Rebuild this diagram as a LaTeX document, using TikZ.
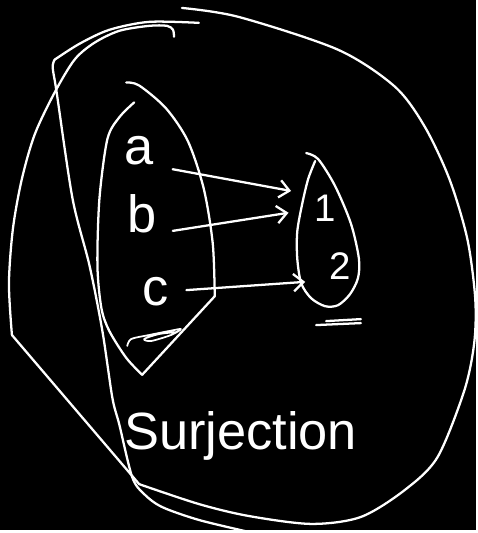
\documentclass[tikz,border=0pt]{standalone}
\usepackage{fontspec}
\setmainfont{Liberation Sans}
\usetikzlibrary{arrows.meta}

\tikzset{
    INK/.style={draw=white, line width=1.3pt, line cap=round,
        line join=round},
    LABEL/.style={text=white, inner sep=0mm,
        font={\fontsize{30}{36}\selectfont}},
    NUM_LABEL/.style={LABEL, font={\fontsize{22}{26}\selectfont}},
    TITLE/.style={LABEL, anchor=base},
    ARROW/.style={INK, -{Straight Barb[length=2mm, width=3.5mm]}},
    SCRIBBLE/.style={INK, line width=1pt}
}
\pgfdeclarelayer{bglayer}
\pgfdeclarelayer{edgelayer}
\pgfdeclarelayer{nodelayer}
\pgfsetlayers{bglayer,edgelayer,nodelayer,main}

\begin{document}
\begin{tikzpicture}[x=0.02cm, y=-0.02cm]
    \begin{pgfonlayer}{bglayer}
        \fill[black] (0,0) rectangle (479,533);
        \useasboundingbox (0,0) rectangle (479,533);
    \end{pgfonlayer}
    \begin{pgfonlayer}{nodelayer}
        \node [LABEL] (a) at (140,152) {a};
        \node [LABEL] (b) at (143,215) {b};
        \node [LABEL] (c) at (157,293) {c};
        \node [NUM_LABEL] (1) at (327,210) {1};
        \node [NUM_LABEL] (2) at (342,268) {2};
        \node [TITLE] (title) at (242,452) {Surjection};
    \end{pgfonlayer}
    \begin{pgfonlayer}{edgelayer}
        % big outer loop
        \draw[INK] plot[smooth] coordinates {(175,37) (174,30) (168,26) (150,26)
            (120,31) (95,43) (75,60) (55,93) (35,135) (22,180) (13,230) (9,285) (12,337)};
        \draw[INK] (12,337) -- (140,487);
        \draw[INK] plot[smooth] coordinates {(140,487) (200,507) (250,519) (313,527)
            (363,520) (407,493) (440,460) (467,393) (477,345) (478,300) (470,240)
            (452,180) (427,127) (397,87) (340,50) (240,17) (183,8)};
        % second loop
        \draw[INK] plot[smooth] coordinates {(200,23) (150,22) (110,30) (80,44) (55,60)};
        \draw[INK] plot[smooth] coordinates {(55,60) (53,68) (57,93) (73,200) (90,267)
            (103,333) (113,400) (120,427) (133,480) (145,497) (163,510) (200,523) (250,535)};
        % domain
        \draw[INK] plot[smooth] coordinates {(135,103) (120,118) (108,140) (100,200)
            (98,267) (102,310) (110,333) (127,360) (143,377)};
        \draw[INK] plot[smooth] coordinates {(127,83) (140,86) (167,109) (189,142)
            (205,190) (214,245) (216,298)};
        \draw[INK] (216,298) -- (143,377);
        \draw[SCRIBBLE] plot[smooth] coordinates {(128,348) (132,341) (150,337) (170,333)
            (182,331) (172,337) (152,343) (145,341) (160,336) (178,334)};
        % codomain
        \draw[INK] plot[smooth] coordinates {(308,154) (320,160) (337,187) (353,225)
            (361,260) (360,280) (352,296) (340,307) (327,308) (313,300) (303,285)
            (299,260) (299,233) (304,205) (310,180) (317,162)};
        \draw[INK] (318,327) -- (363,325);
        \draw[INK] (328,323) -- (363,321);
        % maps
        \draw[ARROW, shorten <=0.38cm, shorten >=0.47cm] (a.south east) to (1.north west);
        \draw[ARROW, shorten <=0.32cm, shorten >=0.52cm] (b.south east) to (1.west);
        \draw[ARROW, shorten <=0.34cm, shorten >=0.48cm] (c.east) to (2.south west);
    \end{pgfonlayer}
\end{tikzpicture}
\end{document}
